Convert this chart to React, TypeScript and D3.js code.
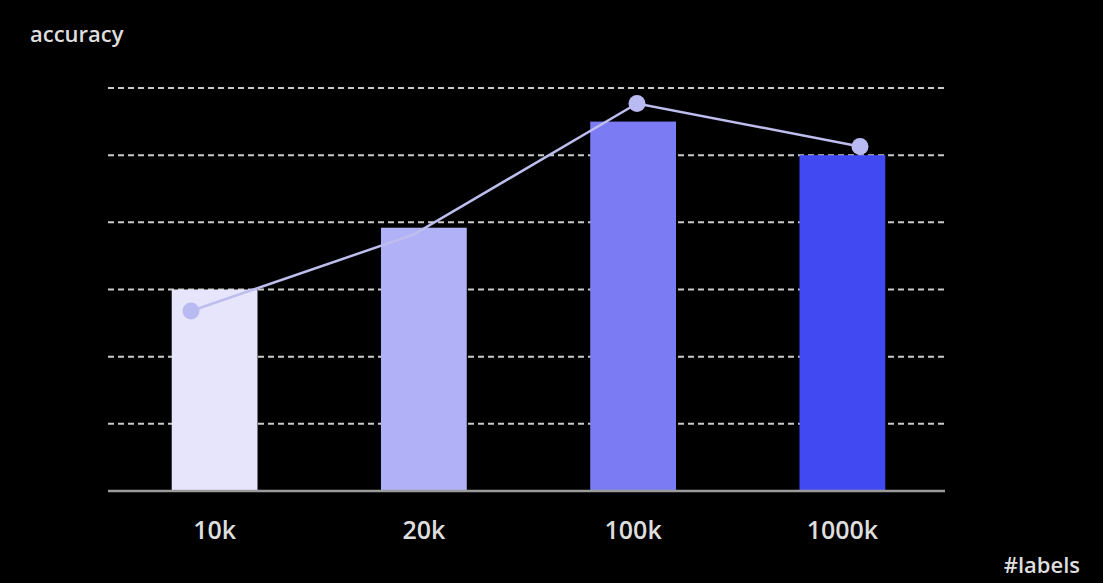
import React from "react"
import * as d3 from "d3"

// bar + line data (grid units, 6 gridlines above baseline)
const categories = ["10k", "20k", "100k", "1000k"]
const barValues = [3.0, 3.92, 5.5, 5.0]
const lineValues = [2.68, 3.82, 5.77, 5.13]
const markerCats = ["10k", "100k", "1000k"] // 20k dot blends into its bar in the reference
const barColors = ["#e7e5fb", "#b1b1f7", "#7b7cf4", "#4149f2"]
const gridTicks = [1, 2, 3, 4, 5, 6]

const W = 1103
const H = 583

const App = () => {
    // Scales for bars, line and y values.
    const x = d3.scaleBand<string>()
        .domain(categories)
        .range([110, 947])
        .paddingInner(0.59)
        .paddingOuter(0.295)
    const xLine = d3.scalePoint<string>()
        .domain(categories)
        .range([191, 860])
    const y = d3.scaleLinear().domain([0, 6]).range([491, 88])

    const line = d3.line<number>()
        .x((d, i) => xLine(categories[i]) as number)
        .y(d => y(d))

    const font = "'Open Sans', 'Noto Sans', sans-serif"
    const txt = "#dedede"

    return (
        <svg width={W} height={H} style={{ display: "block", position: "absolute", left: 0, top: 0, background: "#000" }}>
            <rect width={W} height={H} fill="#000" />
            <text x={30} y={42} fill={txt} fontFamily={font} fontSize={22} fontWeight={600}>accuracy</text>

            {/* dashed gridlines */}
            {gridTicks.map(t => (
                <line key={t} x1={108} x2={945} y1={y(t)} y2={y(t)}
                    stroke="#c9c9c9" strokeWidth={2} strokeDasharray="6 4" />
            ))}

            {/* bars */}
            {categories.map((c, i) => (
                <rect key={c} x={x(c)} y={y(barValues[i])} width={x.bandwidth()}
                    height={y(0) - y(barValues[i])} fill={barColors[i]} />
            ))}

            {/* baseline */}
            <line x1={108} x2={945} y1={y(0)} y2={y(0)} stroke="#9b9b9b" strokeWidth={2.5} />

            {/* line series */}
            <path d={line(lineValues) ?? ""} fill="none" stroke="#bdbdee" strokeWidth={2.5} />
            {lineValues.map((v, i) => markerCats.includes(categories[i]) && (
                <circle key={i} cx={xLine(categories[i])} cy={y(v)} r={8.5} fill="#babaf2" />
            ))}

            {/* x tick labels */}
            {categories.map(c => (
                <text key={c} x={(x(c) as number) + x.bandwidth() / 2} y={539} textAnchor="middle"
                    fill={txt} fontFamily={font} fontSize={25} fontWeight={600}>{c}</text>
            ))}
            <text x={1080} y={573} textAnchor="end" fill={txt} fontFamily={font} fontSize={22} fontWeight={600}>#labels</text>
        </svg>
    )
}

export default App
